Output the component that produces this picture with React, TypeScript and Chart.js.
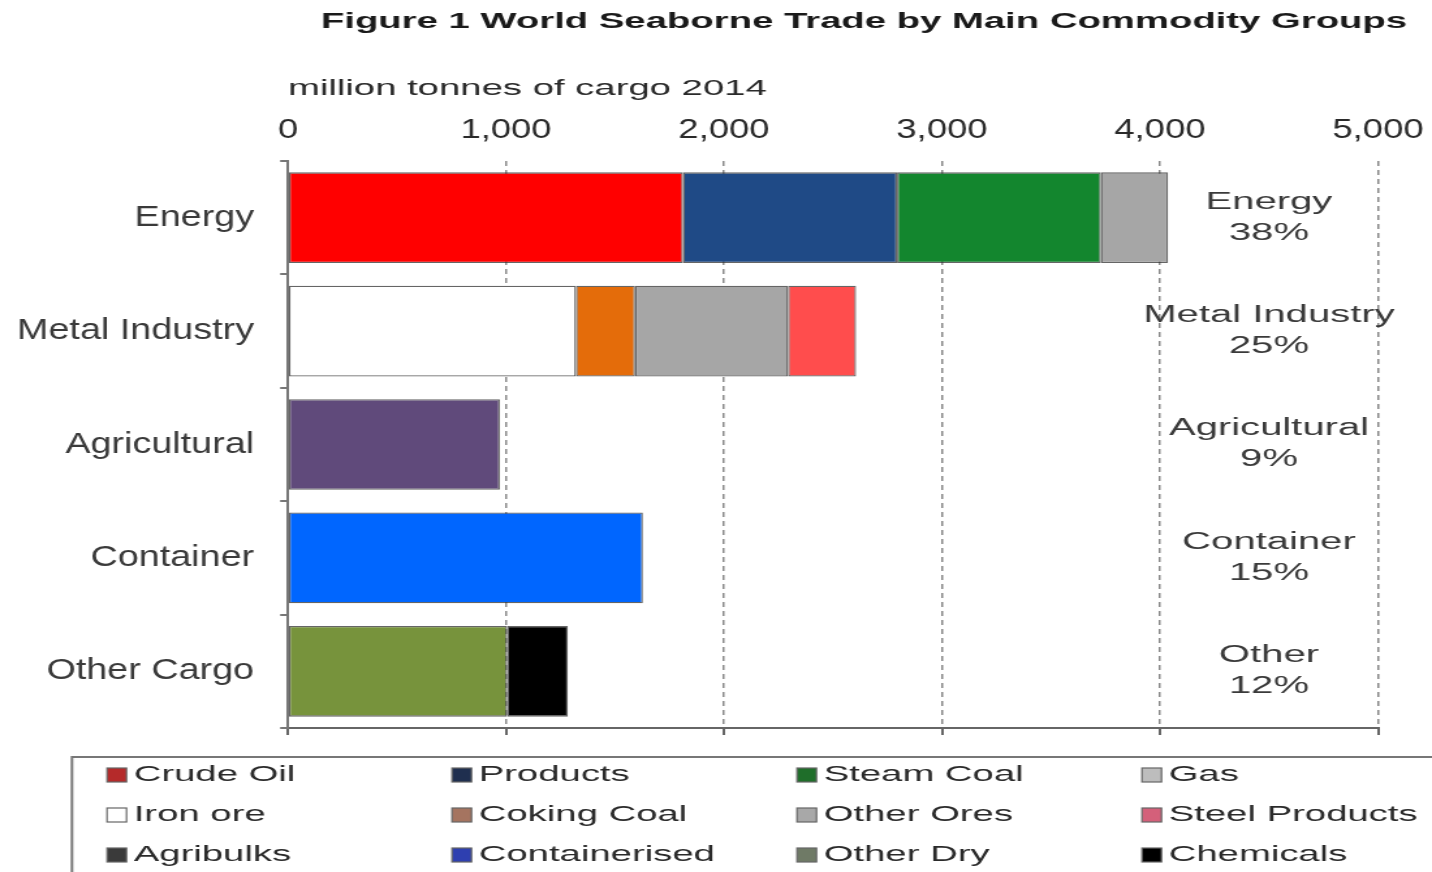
import React, { useEffect, useRef } from "react";
import { Chart, registerables } from "chart.js";

Chart.register(...registerables);

// ---------------- data ----------------
const categories = ["Energy", "Metal Industry", "Agricultural", "Container", "Other Cargo"];
const shareLabels = ["Energy", "Metal Industry", "Agricultural", "Container", "Other"];

const seriesNames = [
  "Crude Oil", "Products", "Steam Coal", "Gas",
  "Iron ore", "Coking Coal", "Other Ores", "Steel Products",
  "Agribulks", "Containerised", "Other Dry", "Chemicals",
];

// million tonnes of cargo 2014, one value per category (null where not part of it)
const crudeOil = [1812, null, null, null, null];
const productsVals = [982, null, null, null, null];
const steamCoal = [935, null, null, null, null];
const gasVals = [308, null, null, null, null];
const ironOre = [null, 1321, null, null, null];
const cokingCoal = [null, 271, null, null, null];
const otherOres = [null, 702, null, null, null];
const steelProducts = [null, 312, null, null, null];
const agribulks = [null, null, 972, null, null];
const containerised = [null, null, null, 1628, null];
const otherDry = [null, null, null, null, 1005];
const chemicals = [null, null, null, null, 279];

const seriesValues = [
  crudeOil, productsVals, steamCoal, gasVals,
  ironOre, cokingCoal, otherOres, steelProducts,
  agribulks, containerised, otherDry, chemicals,
];

const xMin = 0;
const xMax = 5000;
const xStep = 1000;

// ---------------- styles ----------------
const barColors = [
  "#FF0000", "#1F4A86", "#13862E", "#A6A6A6",
  "#FFFFFF", "#E46C0A", "#A6A6A6", "#FF4D4D",
  "#604A7B", "#0066FF", "#77933C", "#000000",
];
const legendColors = [
  "#B52A2A", "#1F2F4F", "#1F6E2A", "#BDBDBD",
  "#FFFFFF", "#A57460", "#A8A8A8", "#D4607A",
  "#3A3A3A", "#2E3FB0", "#6F7A66", "#000000",
];

const FONT = "'Liberation Sans', Arial, Helvetica, sans-serif";
const W = 1100;
const H = 872;
const S = 1432 / W; // global horizontal stretch
const E = 1.74 / S; // extra stretch for the small texts

function stretchedText(
  ctx: CanvasRenderingContext2D,
  text: string,
  x: number,
  y: number,
  align: "left" | "center" | "right",
  font: string,
  color: string
) {
  ctx.save();
  ctx.font = font;
  ctx.fillStyle = color;
  ctx.textBaseline = "middle";
  ctx.textAlign = "left";
  const w = ctx.measureText(text).width * E;
  let x0 = x;
  if (align === "center") x0 = x - w / 2;
  else if (align === "right") x0 = x - w;
  ctx.translate(x0, y);
  ctx.scale(E, 1);
  ctx.fillText(text, 0, 0);
  ctx.restore();
}

const decorPlugin = {
  id: "decor",
  afterDraw(chart: any) {
    const ctx: CanvasRenderingContext2D = chart.ctx;
    const xs = chart.scales.x;
    const ys = chart.scales.y;

    // title
    stretchedText(ctx, "Figure 1 World Seaborne Trade by Main Commodity Groups", 663.7, 22, "center", `bold 22px ${FONT}`, "#1a1a1a");
    // axis title
    stretchedText(ctx, "million tonnes of cargo 2014", chart.chartArea.left, 89, "left", `22px ${FONT}`, "#2a2a2a");

    // shares on the right
    const totals = categories.map((_, i) =>
      seriesValues.reduce((s, arr) => s + (arr[i] ?? 0), 0)
    );
    const grand = totals.reduce((a, b) => a + b, 0);
    const lx = xs.getPixelForValue(4500);
    shareLabels.forEach((lab, i) => {
      const cy = ys.getPixelForValue(i);
      const pct = Math.round((totals[i] / grand) * 100) + "%";
      stretchedText(ctx, lab, lx, cy - 15.5, "center", `23px ${FONT}`, "#3a3a3a");
      stretchedText(ctx, pct, lx, cy + 15.5, "center", `23px ${FONT}`, "#3a3a3a");
    });

    // legend box
    ctx.save();
    ctx.strokeStyle = "#777";
    ctx.lineWidth = 2;
    ctx.strokeRect(55.3, 757, 1100, 200);
    const colX = [82.2, 347.2, 612.2, 877.2];
    const rowY = [775, 815, 855];
    seriesNames.forEach((name, i) => {
      const c = i % 4;
      const r = Math.floor(i / 4);
      const sx = colX[c];
      const sy = rowY[r];
      ctx.fillStyle = legendColors[i];
      ctx.fillRect(sx, sy - 7, 15, 14);
      ctx.strokeStyle = "#666";
      ctx.lineWidth = 1.2;
      ctx.strokeRect(sx, sy - 7, 15, 14);
      stretchedText(ctx, name, sx + 20.5, sy, "left", `22px ${FONT}`, "#2a2a2a");
    });
    ctx.restore();
  },
};

export default function App() {
  const canvasRef = useRef<HTMLCanvasElement | null>(null);

  useEffect(() => {
    if (!canvasRef.current) return;
    const datasets = seriesNames.map((name, i) => ({
      label: name,
      data: seriesValues[i],
      backgroundColor: barColors[i],
      borderColor: "rgba(50,50,50,0.75)",
      borderWidth: 1.3,
      borderSkipped: false,
      barPercentage: 0.8,
      categoryPercentage: 1,
      xAxisID: "x",
      yAxisID: "y",
    }));

    const chart = new Chart(canvasRef.current, {
      type: "bar",
      data: { labels: categories, datasets: datasets as any },
      options: {
        indexAxis: "y",
        responsive: true,
        maintainAspectRatio: false,
        animation: false,
        layout: { padding: { left: 0, right: 41.5, top: 0, bottom: 0 } },
        plugins: {
          legend: { display: false },
          tooltip: { enabled: false },
          title: { display: false },
        },
        scales: {
          x: {
            type: "linear",
            position: "top",
            stacked: true,
            min: xMin,
            max: xMax,
            ticks: {
              stepSize: xStep,
              font: { family: FONT, size: 28, lineHeight: 1.93 },
              color: "#2a2a2a",
              padding: 4,
            },
            grid: { color: "#888", lineWidth: 1.5, drawTicks: false },
            border: { display: false, dash: [5, 4] },
            afterFit: (s: any) => {
              s.height = 161;
            },
          } as any,
          x2: {
            type: "linear",
            position: "bottom",
            min: xMin,
            max: xMax,
            ticks: { display: false, stepSize: xStep },
            grid: { drawOnChartArea: false, tickLength: 7, color: "#666", lineWidth: 2 },
            border: { display: true, color: "#666", width: 2 },
            afterFit: (s: any) => {
              s.height = 144;
            },
          } as any,
          y: {
            type: "category",
            stacked: true,
            offset: true,
            grid: { offset: true, drawOnChartArea: false, tickLength: 6, color: "#777", lineWidth: 2 },
            border: { display: true, color: "#777", width: 2 },
            ticks: { font: { family: FONT, size: 29 }, color: "#3a3a3a", padding: 20 },
            afterFit: (s: any) => {
              s.width = 221.2;
            },
          } as any,
        },
      },
      plugins: [decorPlugin],
    });
    return () => chart.destroy();
  }, []);

  return (
    <div
      style={{
        position: "fixed",
        left: 0,
        top: 0,
        width: 1432,
        height: H,
        overflow: "hidden",
        background: "#fff",
      }}
    >
      <div
        style={{
          position: "relative",
          width: W,
          height: H,
          transform: `scaleX(${S})`,
          transformOrigin: "0 0",
        }}
      >
        <canvas ref={canvasRef} />
      </div>
    </div>
  );
}
